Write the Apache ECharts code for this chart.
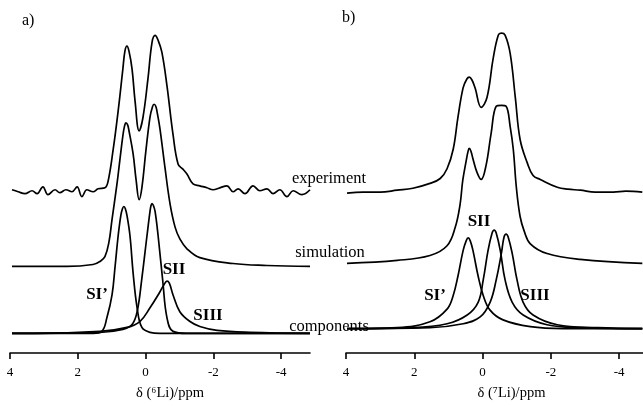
<!DOCTYPE html>
<html>
<head>
<meta charset="utf-8">
<script src="https://cdn.jsdelivr.net/npm/echarts@6/dist/echarts.min.js"></script>
<style>
html, body { margin: 0; padding: 0; background: #fff; }
#chart { width: 643px; height: 406px; }
</style>
</head>
<body>
<div id="chart"></div>
<script>
// tick labels (ppm)
var tickValues = [4, 2, 0, -2, -4];

// ---- panel a) 6Li ----
// experiment
var aExpPpm = [3.94,3.76,3.56,3.35,3.20,3.03,2.88,2.67,2.53,2.35,2.17,2.02,1.88,1.73,1.55,1.40,1.20,1.11,0.96,0.81,
    0.67,0.61,0.55,0.49,0.40,0.31,0.19,0.08,-0.07,-0.19,-0.28,-0.37,-0.48,-0.63,-0.81,-0.96,-1.10,-1.22,-1.40,-1.60,
    -1.81,-1.99,-2.19,-2.40,-2.58,-2.73,-2.93,-3.17,-3.37,-3.58,-3.76,-3.96,-4.17,-4.35,-4.61,-4.85];
var aExpVal = [0,-2,-4,-1,-4,3,-5,0,-3,0,-2,3,-7,0,-2,1,2,8,40,80,
    123,141,146,141,123,90,60,73,113,150,157,152,140,106,56,26,21,16,6,4,
    2,0,2,4,-2,1,-4,4,-1,1,-4,0,-7,-1,-5,0];
// simulation
var aSimPpm = [3.94,2.32,1.55,1.35,1.20,1.08,0.99,0.84,0.76,0.67,0.62,0.58,0.53,0.49,0.37,0.28,0.19,0.11,-0.01,-0.13,
    -0.20,-0.25,-0.30,-0.34,-0.42,-0.57,-0.72,-0.87,-1.01,-1.22,-1.60,-2.58,-3.58,-4.85];
var aSimVal = [0,0,2,5,10,25,48,85,108,133,143,146,144,138,115,88,68,80,118,152,
    162,165,163,157,141,101,64,40,28,18,9,3,1,0];
// components
var aSI1Ppm = [3.94,1.55,1.29,1.14,0.99,0.90,0.81,0.73,0.68,0.64,0.60,0.55,0.46,0.37,0.25,0.11,-0.13,-0.42,-4.85];
var aSI1Val = [0,0,2,16,39,68,99,120,127,129,127,120,99,62,26,6,1,0,0];
var aSIIPpm = [3.94,1.35,0.67,0.40,0.25,0.11,-0.04,-0.13,-0.16,-0.19,-0.23,-0.28,-0.37,-0.51,-0.63,-0.81,-1.22,-4.85];
var aSIIVal = [0,1,4,9,22,56,99,124,130,132,130,124,99,52,16,2,0,0];
var aSIIIPpm = [3.94,3.32,1.35,0.55,0.17,-0.13,-0.42,-0.55,-0.63,-0.70,-0.81,-1.01,-1.31,-1.60,-2.11,-3.08,-4.85];
var aSIIIVal = [0,0,2,6,12,26,42,50,53,51,39,22,12,7,3,1,0];

// ---- panel b) 7Li ----
var bExpPpm = [3.97,3.50,3.00,2.50,2.04,1.54,1.24,1.04,0.86,0.72,0.57,0.46,0.39,0.31,0.22,0.04,-0.13,-0.31,-0.46,-0.55,
    -0.66,-0.81,-0.96,-1.10,-1.31,-1.48,-1.69,-2.19,-2.50,-2.86,-3.30,-3.83,-4.20,-4.68];
var bExpVal = [-1,0,0,2,4,9,14,24,44,77,107,116,118,115,107,87,97,137,161,163,
    161,142,97,54,30,17,13,5,3,2,0,0,1,0];
var bSimPpm = [3.97,2.50,1.54,1.04,0.80,0.66,0.58,0.48,0.43,0.39,0.34,0.28,0.16,0.04,-0.10,-0.25,-0.40,-0.55,-0.69,-0.81,
    -0.90,-0.99,-1.10,-1.22,-1.40,-1.89,-2.86,-4.68];
var bSimVal = [0,3,8,18,37,60,85,105,114,118,115,107,93,86,100,133,161,162,161,140,
    117,78,48,33,20,10,4,0];
var bSI1Ppm = [3.97,2.50,1.54,1.04,0.86,0.72,0.57,0.48,0.42,0.36,0.28,0.13,-0.02,-0.22,-0.60,-1.40,-2.36,-4.68];
var bSI1Val = [0,1,7,20,34,54,80,90,93,90,80,54,34,19,9,2,0,0];
var bSIIPpm = [3.97,2.04,1.04,0.45,0.13,-0.02,-0.16,-0.28,-0.34,-0.40,-0.52,-0.66,-0.87,-1.19,-1.89,-2.86,-4.68];
var bSIIVal = [0,1,5,14,27,50,80,98,101,98,80,50,27,14,4,1,0];
var bSIIIPpm = [3.97,1.54,0.57,0.07,-0.22,-0.40,-0.55,-0.63,-0.69,-0.75,-0.87,-1.01,-1.19,-1.48,-2.19,-3.36,-4.68];
var bSIIIVal = [0,1,5,12,27,50,77,94,97,94,77,50,27,14,4,1,0];

// vertical stacking of the traces (baseline of each trace, in y-axis units)
var offA = { exp: 166, sim: 88, comp: 20 };
var offB = { exp: 165, sim: 92, comp: 25 };

var serif = 'Liberation Serif, Times New Roman, serif';

function trace(ppm, vals, off, idx) {
    var d = [];
    for (var i = 0; i < ppm.length; i++) {
        d.push([ppm[i], vals[i] + off]);
    }
    return {
        type: 'line',
        xAxisIndex: idx,
        yAxisIndex: idx,
        data: d,
        showSymbol: false,
        smooth: 0.4,
        silent: true,
        lineStyle: { color: '#000', width: 1.7 }
    };
}

function ppmAxis(idx, min, name, shift) {
    return {
        type: 'value',
        gridIndex: idx,
        min: min,
        max: 4,
        inverse: true,
        axisLine: { show: true, onZero: false, lineStyle: { color: '#000', width: 1.6 } },
        axisTick: { show: true, length: 6, customValues: tickValues, lineStyle: { color: '#000', width: 1.6 } },
        axisLabel: { customValues: tickValues, color: '#000', fontFamily: serif, fontSize: 13, margin: 13 },
        splitLine: { show: false },
        name: name,
        nameLocation: 'middle',
        nameGap: 33,
        nameTextStyle: { color: '#000', fontFamily: serif, fontSize: 14.5, padding: [0, 0, 0, shift * 2] }
    };
}

function txt(s, x, y, size, bold, align) {
    return {
        type: 'text',
        x: x, y: y,
        style: {
            text: s,
            fill: '#000',
            font: (bold ? 'bold ' : '') + size + 'px ' + serif,
            textAlign: align || 'center',
            textVerticalAlign: 'middle'
        }
    };
}

var myChart = echarts.init(document.getElementById('chart'), null, { renderer: 'canvas' });
var option = {
    animation: false,
    backgroundColor: '#fff',
    grid: [
        { left: 10, top: 0, width: 300, height: 359 },
        { left: 346, top: 3, width: 297, height: 359 }
    ],
    xAxis: [
        ppmAxis(0, -4.85, 'δ (⁶Li)/ppm', 10),
        ppmAxis(1, -4.7, 'δ (⁷Li)/ppm', 17)
    ],
    yAxis: [
        { type: 'value', gridIndex: 0, min: 0, max: 359, show: false },
        { type: 'value', gridIndex: 1, min: 0, max: 359, show: false }
    ],
    series: [
        trace(aExpPpm, aExpVal, offA.exp, 0),
        trace(aSimPpm, aSimVal, offA.sim, 0),
        trace(aSI1Ppm, aSI1Val, offA.comp, 0),
        trace(aSIIPpm, aSIIVal, offA.comp, 0),
        trace(aSIIIPpm, aSIIIVal, offA.comp, 0),
        trace(bExpPpm, bExpVal, offB.exp, 1),
        trace(bSimPpm, bSimVal, offB.sim, 1),
        trace(bSI1Ppm, bSI1Val, offB.comp, 1),
        trace(bSIIPpm, bSIIVal, offB.comp, 1),
        trace(bSIIIPpm, bSIIIVal, offB.comp, 1)
    ],
    graphic: [
        txt('a)', 22, 21, 16, false, 'left'),
        txt('b)', 342, 18, 16, false, 'left'),
        txt('experiment', 329, 179, 16.5),
        txt('simulation', 330, 253, 16.5),
        txt('components', 329, 327, 16.5),
        txt('SI\u2019', 97, 295, 17, true),
        txt('SII', 174, 270, 17, true),
        txt('SIII', 208, 316, 17, true),
        txt('SI\u2019', 435, 296, 17, true),
        txt('SII', 479, 222, 17, true),
        txt('SIII', 535, 296, 17, true)
    ]
};
myChart.setOption(option);
</script>
</body>
</html>
